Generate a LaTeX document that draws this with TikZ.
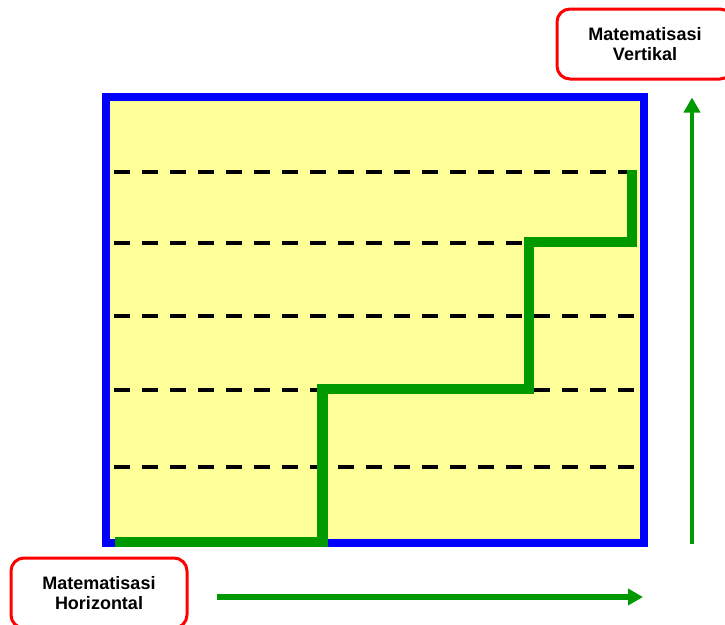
\documentclass[tikz,border=0pt]{standalone}
\usepackage{fontspec}
\setmainfont{Liberation Sans}
\usetikzlibrary{arrows.meta}
\definecolor{panelfill}{HTML}{FFFF99}
\definecolor{frameblue}{HTML}{0000FF}
\definecolor{stepgreen}{HTML}{009900}
\definecolor{labelred}{HTML}{FF0000}
\tikzset{
  labelbox/.style={draw=labelred, line width=3pt, rounded corners=13pt, fill=white,
    minimum width=176pt, minimum height=70pt, inner sep=0pt, align=center,
    font=\bfseries\fontsize{18}{20.5}\selectfont},
  levelline/.style={black, line width=4pt, dash pattern=on 16pt off 12pt},
  stairpath/.style={stepgreen, line width=10.5pt, line join=miter},
  axisarrow/.style={stepgreen, -{Triangle[length=15pt,width=16pt]}}
}
\begin{document}
\begin{tikzpicture}[x=1pt,y=-1pt]
  \useasboundingbox (0,0) rectangle (725,624);
  \clip (0,0) rectangle (725,624);

  % framed panel
  \draw[frameblue, line width=8pt, fill=panelfill] (105.5,97) rectangle (644,543);

  % dashed levels
  \foreach \yy/\nm in {172/l1,243/l2,316/l3,390/l4,467/l5}{
    \coordinate (\nm a) at (114,\yy);
    \coordinate (\nm b) at (634,\yy);
    \draw[levelline] (\nm a) -- (\nm b);
  }

  % green staircase
  \coordinate (s0) at (115,542);
  \coordinate (s1) at (322.5,542);
  \coordinate (s2) at (322.5,389);
  \coordinate (s3) at (529,389);
  \coordinate (s4) at (529,242);
  \coordinate (s5) at (632,242);
  \coordinate (s6) at (632,170);
  \draw[stairpath] (s0) -- (s1) -- (s2) -- (s3) -- (s4) -- (s5) -- (s6);

  % axis arrows
  \coordinate (vbot) at (692,544);
  \coordinate (vtop) at (692,97.5);
  \draw[axisarrow, line width=4pt] (vbot) -- (vtop);
  \coordinate (hleft) at (217,597);
  \coordinate (hright) at (643,597);
  \draw[axisarrow, line width=6pt] (hleft) -- (hright);

  % labels
  \node[labelbox] (vert) at (645,44) {Matematisasi\\Vertikal};
  \node[labelbox] (horiz) at (99,593) {Matematisasi\\Horizontal};
\end{tikzpicture}
\end{document}
